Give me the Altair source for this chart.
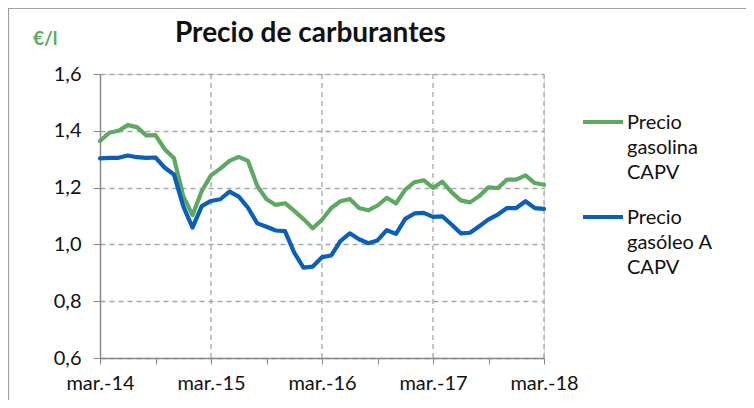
import altair as alt
import pandas as pd

# ---- data ----
month_index = list(range(49))  # mar-14 .. mar-18, monthly
year_labels = ["mar.-14", "mar.-15", "mar.-16", "mar.-17", "mar.-18"]
gasolina = [1.364, 1.393, 1.400, 1.420, 1.413, 1.384, 1.385, 1.335, 1.303, 1.170,
            1.103, 1.188, 1.243, 1.267, 1.294, 1.308, 1.294, 1.206, 1.159, 1.139,
            1.145, 1.118, 1.089, 1.057, 1.087, 1.128, 1.152, 1.160, 1.128, 1.120,
            1.137, 1.164, 1.144, 1.193, 1.219, 1.226, 1.199, 1.221, 1.184, 1.155,
            1.148, 1.170, 1.201, 1.198, 1.228, 1.228, 1.243, 1.216, 1.210]
gasoleo = [1.303, 1.305, 1.305, 1.313, 1.307, 1.305, 1.306, 1.270, 1.246, 1.135,
           1.059, 1.135, 1.153, 1.159, 1.186, 1.168, 1.129, 1.074, 1.062, 1.049,
           1.047, 0.971, 0.918, 0.922, 0.955, 0.961, 1.012, 1.039, 1.018, 1.004,
           1.014, 1.050, 1.037, 1.090, 1.109, 1.111, 1.097, 1.099, 1.070, 1.039,
           1.041, 1.064, 1.088, 1.105, 1.128, 1.128, 1.152, 1.128, 1.125]
series_names = ["Precio\ngasolina\nCAPV", "Precio\ngasóleo A\nCAPV"]
series_colors = ["#5EA862", "#0A5FB8"]
y_ticks = [0.6, 0.8, 1.0, 1.2, 1.4, 1.6]
year_ticks = [12, 24, 36, 48]
title_text = "Precio de carburantes"
unit_text = "€/l"

FONT = "Lato"
GRID = "#A6A6A6"
AXIS = "#898989"

df = pd.DataFrame({
    "m": month_index * 2,
    "v": gasolina + gasoleo,
    "s": [series_names[0]] * 49 + [series_names[1]] * 49,
})

label_arr = "[" + ",".join("'%s'" % l for l in year_labels) + "]"

x_enc = alt.X("m:Q", scale=alt.Scale(domain=[0, 48], nice=False, zero=False),
              axis=alt.Axis(values=list(range(0, 49, 3)), grid=False, title=None,
                            labelExpr="datum.value % 12 == 0 ? " + label_arr + "[datum.value / 12] : ''",
                            labelFont=FONT, labelFontSize=20, labelColor="#111",
                            labelPadding=9, tickSize=6, tickColor=AXIS,
                            domainColor=AXIS, domainWidth=1.5, labelFlush=False))
y_enc = alt.Y("v:Q", scale=alt.Scale(domain=[0.6, 1.6], nice=False, zero=False),
              axis=alt.Axis(values=y_ticks, title=None,
                            labelExpr="replace(format(datum.value, '.1f'), '.', ',')",
                            labelFont=FONT, labelFontSize=20, labelColor="#111",
                            labelPadding=12, tickSize=7, tickColor=AXIS,
                            domainColor=AXIS, domainWidth=1.5,
                            grid=True, gridColor=GRID, gridDash=[5, 4], gridWidth=1.3))

vgrid = alt.Chart(pd.DataFrame({"m": year_ticks})).mark_rule(
    color=GRID, strokeDash=[5, 4], strokeWidth=1.3
).encode(x=alt.X("m:Q", scale=alt.Scale(domain=[0, 48], nice=False, zero=False)))

lines = alt.Chart(df).mark_line(strokeWidth=4.2, strokeJoin="round", strokeCap="round").encode(
    x=x_enc, y=y_enc,
    color=alt.Color("s:N", scale=alt.Scale(domain=series_names, range=series_colors), legend=None),
)

leg_df = pd.DataFrame({"s": series_names, "c": series_colors})
leg1 = leg_df.iloc[[0]]
leg2 = leg_df.iloc[[1]]


def legend_entry(d, ly):
    base = alt.Chart(d)
    line = base.mark_rule(strokeWidth=4.2, strokeCap="butt").encode(
        x=alt.value(483), x2=alt.value(523), y=alt.value(ly),
        color=alt.Color("c:N", scale=None))
    txt = base.mark_text(align="left", baseline="alphabetic", lineBreak="\n", lineHeight=25,
                         font=FONT, fontSize=20, color="#111").encode(
        x=alt.value(527), y=alt.value(ly + 7), text="s:N")
    return line + txt


one = pd.DataFrame({"t": [title_text], "u": [unit_text]})
title = alt.Chart(one).mark_text(align="left", baseline="alphabetic", font=FONT,
                                 fontSize=28, fontWeight="bold", color="#111").encode(
    x=alt.value(75), y=alt.value(-32), text="t:N")
unit = alt.Chart(one).mark_text(align="left", baseline="alphabetic", font=FONT,
                                fontSize=19, fontWeight="bold", color="#5EA862").encode(
    x=alt.value(-67), y=alt.value(-29), text="u:N")
frame_top = alt.Chart(one).mark_rule(color="#A0A0A0", strokeWidth=1.2).encode(
    x=alt.value(-92), x2=alt.value(646), y=alt.value(-65.5))
frame_left = alt.Chart(one).mark_rule(color="#A0A0A0", strokeWidth=1.2).encode(
    x=alt.value(-91.5), y=alt.value(-66), y2=alt.value(326))

chart = alt.layer(
    vgrid, lines, legend_entry(leg1, 48), legend_entry(leg2, 143),
    title, unit, frame_top, frame_left
).properties(
    width=444, height=284,
    autosize=alt.AutoSizeParams(type="none"),
    padding={"left": 92, "top": 66, "right": 202, "bottom": 42},
).configure_view(stroke=None).configure(background="white")

chart.save("out.html", embed_options={"renderer": "svg", "actions": False})
